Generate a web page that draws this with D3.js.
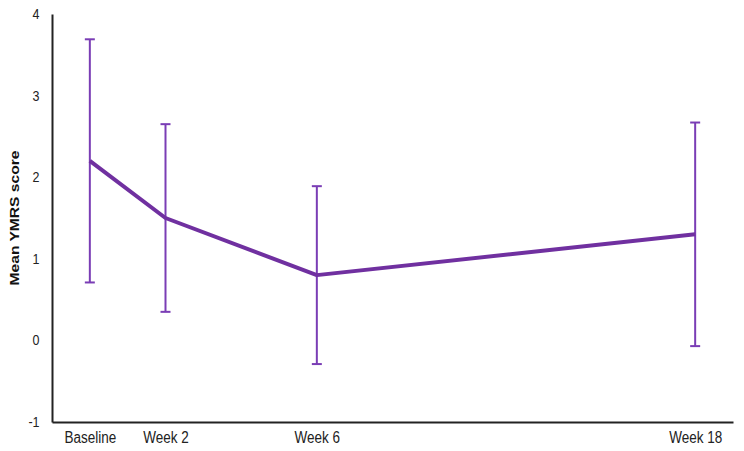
<!DOCTYPE html>
<html>
<head>
<meta charset="utf-8">
<script src="https://cdn.jsdelivr.net/npm/d3@7"></script>
<style>
  body { margin: 0; background: #fff; }
  svg { font-family: "Liberation Sans", Arial, sans-serif; }
</style>
</head>
<body>
<svg id="chart" width="744" height="451"></svg>
<script>
    // visit labels and where they sit on the x axis (week 18 is drawn at the 16 mark)
    var visits = ["Baseline", "Week 2", "Week 6", "Week 18"];
    var visitPos = [0, 2, 6, 16];

    // mean YMRS score and the error bar half-length at each visit
    var meanScore = [2.2, 1.5, 0.8, 1.3];
    var errScore = [1.49, 1.15, 1.09, 1.37];

    var yTicks = [-1, 0, 1, 2, 3, 4];

    var purple = "#7030a0";
    var stretch = 1.2; // text in the picture is a bit taller than wide

    var svg = d3.select("#chart");

    var xScale = d3.scaleLinear().domain([-1, 17]).range([52, 733]);
    var yScale = d3.scaleLinear().domain([-1, 4]).range([422, 14]);

    var points = visits.map((v, i) => ({
      label: v, x: visitPos[i], mean: meanScore[i], err: errScore[i]
    }));

    // y axis (plain hyphen for the minus sign, like the original)
    var yAxis = svg.append("g")
      .attr("transform", "translate(52,0)")
      .call(d3.axisLeft(yScale).tickValues(yTicks).tickFormat(d => String(d))
        .tickSize(0).tickPadding(12.5));
    yAxis.select(".domain").attr("stroke", "#222").attr("stroke-width", 2);
    yAxis.selectAll("text")
      .attr("font-size", "12.5px")
      .attr("fill", "#222")
      .attr("y", 0)
      .attr("dy", "0.3em")
      .attr("transform", "scale(1," + stretch + ")");

    // x axis
    var xAxis = svg.append("g")
      .attr("transform", "translate(0,422)")
      .call(d3.axisBottom(xScale).tickValues(visitPos)
        .tickFormat((d, i) => visits[i]).tickSize(0));
    xAxis.select(".domain").attr("stroke", "#222").attr("stroke-width", 2);
    xAxis.selectAll("text")
      .attr("font-size", "13.5px")
      .attr("fill", "#222")
      .attr("dy", 0)
      .attr("y", 20.7 / stretch)
      .attr("transform", "scale(1," + stretch + ")");

    // y label
    svg.append("text")
      .attr("transform", "translate(19.3,218) rotate(-90) scale(" + stretch + ",1)")
      .attr("text-anchor", "middle")
      .attr("font-size", "13px")
      .attr("font-weight", "bold")
      .attr("fill", "#111")
      .text("Mean YMRS score");

    // error bars
    var bars = svg.append("g")
      .attr("stroke", "#7a3db5")
      .attr("stroke-width", 2)
      .attr("fill", "none");

    bars.selectAll("line.stem")
      .data(points)
      .join("line")
      .attr("class", "stem")
      .attr("x1", d => xScale(d.x))
      .attr("x2", d => xScale(d.x))
      .attr("y1", d => yScale(d.mean + d.err))
      .attr("y2", d => yScale(d.mean - d.err));

    bars.selectAll("line.capTop")
      .data(points)
      .join("line")
      .attr("class", "capTop")
      .attr("x1", d => xScale(d.x) - 5)
      .attr("x2", d => xScale(d.x) + 5)
      .attr("y1", d => yScale(d.mean + d.err))
      .attr("y2", d => yScale(d.mean + d.err));

    bars.selectAll("line.capBot")
      .data(points)
      .join("line")
      .attr("class", "capBot")
      .attr("x1", d => xScale(d.x) - 5)
      .attr("x2", d => xScale(d.x) + 5)
      .attr("y1", d => yScale(d.mean - d.err))
      .attr("y2", d => yScale(d.mean - d.err));

    // mean line
    var line = d3.line()
      .x(d => xScale(d.x))
      .y(d => yScale(d.mean));

    svg.append("path")
      .datum(points)
      .attr("d", line)
      .attr("fill", "none")
      .attr("stroke", purple)
      .attr("stroke-width", 4)
      .attr("stroke-linejoin", "round");
</script>
</body>
</html>
